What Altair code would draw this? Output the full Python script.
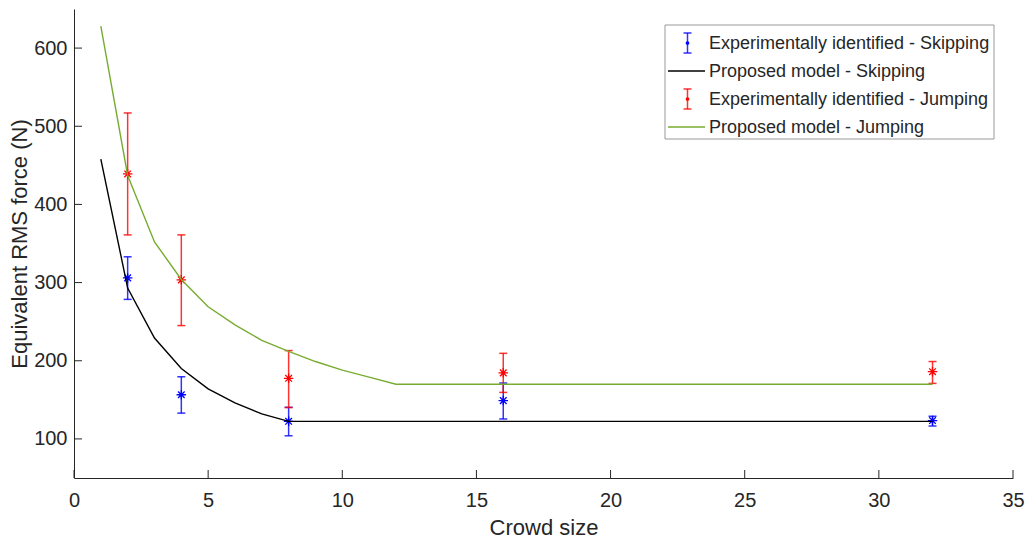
import altair as alt
import pandas as pd

# ---------------- data ----------------
x_exp = [2, 4, 8, 16, 32]
skip_mean = [306, 156.5, 122.5, 149, 123.5]
skip_lo = [278.5, 133, 104, 125.5, 116.5]
skip_hi = [333, 179.5, 140.5, 171.5, 129]
jump_mean = [439, 303.5, 177.5, 184.5, 186]
jump_lo = [361, 245, 140, 159.5, 171]
jump_hi = [517, 361, 213, 209.5, 199]

model_x_skip = [1, 2, 3, 4, 5, 6, 7, 8, 32]
model_skip = [458, 293, 229, 190, 164, 146, 132, 122.5, 122.5]
model_x_jump = [1, 2, 3, 4, 5, 6, 7, 8, 9, 10, 11, 12, 32]
model_jump = [628, 437, 352, 304, 269, 246, 226, 212, 199, 188, 179, 170, 170]

x_ticks = [0, 5, 10, 15, 20, 25, 30, 35]
y_ticks = [100, 200, 300, 400, 500, 600]

legend_labels = [
    "Experimentally identified - Skipping",
    "Proposed model - Skipping",
    "Experimentally identified - Jumping",
    "Proposed model - Jumping",
]

# ---------------- style ----------------
FONT = "Liberation Sans"
TXT = "#262626"
BLUE = "#0000FF"
RED = "#FF0000"
GREEN = "#77AC30"
BLACK = "#000000"
W, H = 939, 469
STAR = "M-1,0L1,0M0,-1L0,1M-0.7,-0.7L0.7,0.7M-0.7,0.7L0.7,-0.7"

xs = alt.Scale(domain=[0, 35], nice=False, zero=False)
ys = alt.Scale(domain=[50, 650], nice=False, zero=False)
XAX = alt.Axis(values=x_ticks, title="Crowd size", ticks=False, labelPadding=12,
               labelFlush=False, labelOverlap=False,
               titleY=56, titleBaseline="alphabetic", format="d")
YAX = alt.Axis(values=y_ticks, title="Equivalent RMS force (N)", ticks=False,
               labelPadding=7, labelFlush=False, labelOverlap=False,
               titleX=-48, titleBaseline="alphabetic", format="d")


def X(f):
    return alt.X(f, scale=xs, axis=XAX)


def Y(f):
    return alt.Y(f, scale=ys, axis=YAX)


skip_df = pd.DataFrame({"x": x_exp, "m": skip_mean, "lo": skip_lo, "hi": skip_hi})
jump_df = pd.DataFrame({"x": x_exp, "m": jump_mean, "lo": jump_lo, "hi": jump_hi})
ms_df = pd.DataFrame({"x": model_x_skip, "y": model_skip})
mj_df = pd.DataFrame({"x": model_x_jump, "y": model_jump})


def errbar(df, color):
    base = alt.Chart(df)
    rule = base.mark_rule(color=color, strokeWidth=1.5, opacity=0.8).encode(
        x=X("x:Q"), y=Y("lo:Q"), y2="hi:Q")
    cap_lo = base.mark_tick(color=color, orient="horizontal", size=8, thickness=1.5,
                            opacity=0.8).encode(x=X("x:Q"), y=Y("lo:Q"))
    cap_hi = base.mark_tick(color=color, orient="horizontal", size=8, thickness=1.5,
                            opacity=0.8).encode(x=X("x:Q"), y=Y("hi:Q"))
    star = base.mark_point(shape=STAR, size=90, filled=False, color=color,
                           strokeWidth=1.3, opacity=1).encode(x=X("x:Q"), y=Y("m:Q"))
    dot = base.mark_point(shape="circle", size=12, filled=True, color=color,
                          opacity=1).encode(x=X("x:Q"), y=Y("m:Q"))
    return [rule, cap_lo, cap_hi, star, dot]


def model(df, color):
    return alt.Chart(df).mark_line(color=color, strokeWidth=1.4).encode(
        x=X("x:Q"), y=Y("y:Q"))


# inward ticks
xt_df = pd.DataFrame({"t": x_ticks})
yt_df = pd.DataFrame({"t": y_ticks})
xtick = alt.Chart(xt_df).mark_rule(color=TXT, strokeWidth=1).encode(
    x=X("t:Q"), y=alt.value(H), y2=alt.value(H - 8))
ytick = alt.Chart(yt_df).mark_rule(color=TXT, strokeWidth=1).encode(
    y=Y("t:Q"), x=alt.value(0), x2=alt.value(8))

# ---------------- legend (drawn manually) ----------------
dummy = pd.DataFrame({"a": [0]})
LX0, LX1, LY0, LY1 = 591, 920, 16, 130
leg = [alt.Chart(dummy).mark_rect(fill="white", stroke="#999999", strokeWidth=1).encode(
    x=alt.value(LX0), x2=alt.value(LX1), y=alt.value(LY0), y2=alt.value(LY1))]
row_y = [34, 62, 90, 118]
kinds = [("err", BLUE), ("line", BLACK), ("err", RED), ("line", GREEN)]
for lab, ry, (kind, col) in zip(legend_labels, row_y, kinds):
    if kind == "err":
        cx = 613.5
        leg.append(alt.Chart(dummy).mark_rule(color=col, strokeWidth=1.5, opacity=0.8).encode(
            x=alt.value(cx), y=alt.value(ry - 10), y2=alt.value(ry + 10)))
        for cy in (ry - 10, ry + 10):
            leg.append(alt.Chart(dummy).mark_rule(color=col, strokeWidth=1.5, opacity=0.8).encode(
                x=alt.value(cx - 4), x2=alt.value(cx + 4), y=alt.value(cy)))
        leg.append(alt.Chart(dummy).mark_point(shape="circle", size=14, filled=True,
                                               color=col, opacity=1).encode(
            x=alt.value(cx), y=alt.value(ry)))
    else:
        leg.append(alt.Chart(dummy).mark_rule(color=col, strokeWidth=1.4).encode(
            x=alt.value(594), x2=alt.value(631), y=alt.value(ry)))
    leg.append(alt.Chart(dummy).mark_text(text=lab, align="left", baseline="middle",
                                          font=FONT, fontSize=18, color=TXT).encode(
        x=alt.value(635), y=alt.value(ry + 1)))

layers = (errbar(skip_df, BLUE) + [model(ms_df, BLACK)]
          + errbar(jump_df, RED) + [model(mj_df, GREEN)] + [xtick, ytick] + leg)

chart = alt.layer(*layers).properties(
    width=W, height=H,
    padding={"left": 74, "top": 9, "right": 17, "bottom": 61},
    autosize=alt.AutoSizeParams(type="none"),
    background="white",
).configure_view(stroke=None).configure_axis(
    grid=False, domainColor=TXT, domainWidth=1,
    labelFont=FONT, labelFontSize=20, labelColor=TXT,
    titleFont=FONT, titleFontSize=22, titleFontWeight="normal", titleColor=TXT,
)

chart.save("out.html", embed_options={"renderer": "svg", "actions": False})
